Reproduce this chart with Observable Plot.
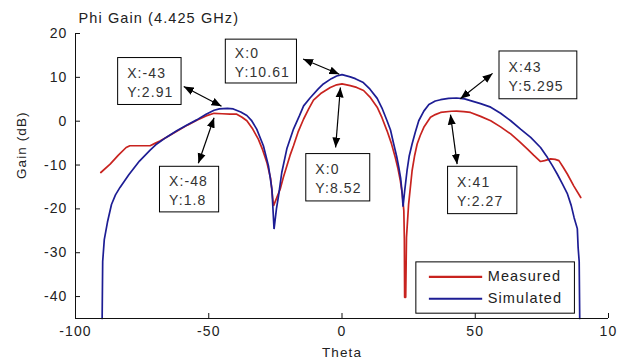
<!DOCTYPE html>
<html>
<head>
<meta charset="utf-8">
<script src="https://cdn.jsdelivr.net/npm/d3@7"></script>
<script src="https://cdn.jsdelivr.net/npm/@observablehq/plot@0.6"></script>
<style>
  html, body { margin: 0; padding: 0; background: #fff; }
  #chart svg text { letter-spacing: 1.1px; }
</style>
</head>
<body>
<div id="chart"></div>
<script>
// ---- Data ----
const simTheta = [-90, -89.8, -89.2, -88, -86.5, -85, -83.3, -80, -76, -72, -69.5, -66, -62, -58, -54.5, -51, -48, -46, -43, -40.8, -38, -35.7, -34, -32, -29.5, -27.6, -26.3, -25.5, -24.6, -23.8, -22.6, -20.7, -18.2, -16, -14.4, -12, -9, -7, -4, -2, 0, 3.1, 5, 8, 10.5, 13.2, 15, 16.9, 18.2, 19.4, 20.5, 21.3, 22, 22.6, 22.9, 23.5, 24.4, 25.2, 26.3, 27.5, 28.8, 30.7, 32.6, 35, 37, 40, 43, 46, 48.2, 52, 55.8, 59.5, 63.3, 67, 70.8, 74.5, 77.1, 79, 80.8, 82.7, 84.6, 86, 87.1, 88.3, 88.6, 89, 89.2];
const simGain  = [-45, -32, -27, -23, -19, -16.8, -15.1, -12.2, -9.1, -6.6, -5.2, -3.7, -2.2, -0.8, 0.3, 1.6, 2.5, 2.8, 2.91, 2.8, 2.1, 1.3, 0.2, -1.8, -5.6, -10.2, -15.5, -24.6, -20, -17, -11.7, -6.3, -1.8, 1.2, 3.5, 5.3, 7.3, 8.5, 9.7, 10.3, 10.61, 10.1, 9.7, 8.8, 7.3, 5.2, 3, 0.1, -2, -5.2, -8, -10.5, -13, -16.6, -19.5, -16, -11.3, -8, -5.2, -2.5, 0.1, 2.3, 3.8, 4.6, 4.9, 5.2, 5.295, 5.1, 4.7, 4.0, 3.2, 1.8, 0.1, -1.8, -3.7, -6, -8.3, -10.2, -12.1, -14.3, -16.6, -19.2, -22, -24.5, -28.8, -32, -45];

const measTheta = [-90.5, -87, -84, -81, -79.6, -76, -72, -70, -68.3, -66, -62, -58, -54.5, -51, -48, -45, -42, -39.5, -37.5, -35.7, -33.5, -31.4, -29.8, -28.2, -26.8, -25.7, -24.5, -23.2, -22, -20.7, -19.5, -18.2, -16.5, -14.4, -12.5, -10.7, -8, -4.4, -2, 0, 3.1, 5.5, 8.1, 10.5, 13.2, 15, 16.9, 18.5, 20, 21, 21.9, 22.6, 23.2, 23.4, 23.5, 23.9, 24.2, 25, 26.3, 27.2, 28.2, 29.4, 30.7, 33.2, 35, 37, 41, 43, 45.7, 48.2, 52, 55.8, 59.5, 63.3, 66.5, 69.5, 72, 74.5, 76, 78.3, 80, 81.4, 83, 84.6, 87, 89.6];
const measGain  = [-11.7, -9.8, -7.8, -6, -5.6, -5.6, -5.6, -5.0, -4.5, -3.7, -2.3, -0.9, 0.2, 1.2, 1.8, 1.7, 1.6, 1.6, 0.9, 0.1, -1.8, -4.1, -6.5, -9.4, -13, -19.3, -17.5, -15.5, -12.8, -10.2, -7.8, -5.6, -2.5, 0.5, 2.8, 4.8, 6.3, 7.7, 8.3, 8.52, 8.1, 7.7, 7.0, 5.5, 3.2, 0.8, -2.2, -5, -8.3, -10.8, -13.6, -16.5, -20.4, -27, -40.2, -40.2, -26.5, -18.9, -11.3, -8, -5.2, -3.2, -1.4, 0.9, 1.5, 2.0, 2.27, 2.3, 2.2, 2.0, 1.1, 0.1, -1.3, -2.9, -4.6, -6.3, -7.8, -9.2, -9.0, -8.6, -8.7, -9.0, -10.5, -12.1, -14.8, -17.4];

const seriesNames = ["Measured", "Simulated"];

const xTicks = [-100, -50, 0, 50, 100];
const xTickLabels = ["-100", "-50", "0", "50", "10"];
const yTicks = [-40, -30, -20, -10, 0, 10, 20];
const yTickLabels = ["-40", "-30", "-20", "-10", "0", "10", "20"];

const titleText = "Phi Gain (4.425 GHz)";
const xLabel = "Theta";
const yLabel = "Gain (dB)";

// data tips (value point + label)
const tipLabels = ["X:-43\nY:2.91", "X:0\nY:10.61", "X:-48\nY:1.8", "X:0\nY:8.52", "X:43\nY:5.295", "X:41\nY:2.27"];
// layout of data-tip boxes (in data units)
const boxX1 = [-84.0, -43.6, -68.3, -13.4, 59.1, 39.8];
const boxX2 = [-60.2, -16.9, -46.1, 10.6, 88.3, 65.8];
const boxY1 = [14.4, 18.6, -10.4, -7.5, 15.9, -10.4];
const boxY2 = [3.7, 8.6, -20.8, -18.3, 5.0, -21.2];
// double arrows between box and point (data units)
const arrX1 = [-59.4, -14.6, -53.9, -2.4, 56.5, 43.2];
const arrY1 = [7.9, 14.2, -9.6, -6.0, 10.9, -9.8];
const arrX2 = [-45.2, -1.0, -48.0, -0.6, 44.4, 40.7];
const arrY2 = [3.4, 10.7, 0.8, 7.7, 5.1, 1.5];

// legend layout (data units)
const legendBox = {x1: 27.9, x2: 87.4, y1: -32.2, y2: -43.9};
const legendLineX1 = 32.6, legendLineX2 = 52.6, legendTextX = 54.7;
const legendY = [-35.5, -40.5];

// ---- Build table objects ----
const sim = simTheta.map((t, i) => ({theta: t, gain: simGain[i]}));
const meas = measTheta.map((t, i) => ({theta: t, gain: measGain[i]}));
const tips = tipLabels.map((label, i) => ({label, x1: boxX1[i], x2: boxX2[i], y1: boxY1[i], y2: boxY2[i], ax1: arrX1[i], ay1: arrY1[i], ax2: arrX2[i], ay2: arrY2[i]}));
const legendRows = seriesNames.map((name, i) => ({name, y: legendY[i]}));

const RED = "#c8231f";
const BLUE = "#1d1d94";
const colorOf = {Measured: RED, Simulated: BLUE};

function arrowHead(color) {
  const ns = "http://www.w3.org/2000/svg";
  const m = document.createElementNS(ns, "marker");
  m.setAttribute("viewBox", "-10 -5 10 10");
  m.setAttribute("markerWidth", 10);
  m.setAttribute("markerHeight", 10);
  m.setAttribute("markerUnits", "userSpaceOnUse");
  m.setAttribute("orient", "auto-start-reverse");
  m.setAttribute("refX", 0);
  m.setAttribute("refY", 0);
  const p = document.createElementNS(ns, "path");
  p.setAttribute("d", "M-10,-4L0,0L-10,4Z");
  p.setAttribute("fill", color);
  p.setAttribute("stroke", "none");
  m.appendChild(p);
  return m;
}

const W = 623, H = 360;
const mL = 75, mR = 15, mT = 33, mB = 42;
const frameW = W - mL - mR, frameH = H - mT - mB;

const chart = Plot.plot({
  width: W,
  height: H,
  marginLeft: mL,
  marginRight: mR,
  marginTop: mT,
  marginBottom: mB,
  style: {fontFamily: "'Liberation Sans', Arial, sans-serif", fontSize: "14px", color: "#222", background: "#fff"},
  x: {domain: [-100, 100], axis: null},
  y: {domain: [-45, 20], axis: null},
  marks: [
    // curves
    Plot.line(meas, {x: "theta", y: "gain", stroke: RED, strokeWidth: 1.7, strokeLinejoin: "miter"}),
    Plot.line(sim, {x: "theta", y: "gain", stroke: BLUE, strokeWidth: 1.7, strokeLinejoin: "miter"}),
    // axes lines
    Plot.ruleX([-100], {stroke: "#111", strokeWidth: 1}),
    Plot.ruleY([-45], {stroke: "#111", strokeWidth: 1}),
    // inward ticks
    Plot.tickX(xTicks, {x: d => d, stroke: "#111", insetTop: frameH - 5}),
    Plot.tickY(yTicks, {y: d => d, stroke: "#111", insetRight: frameW - 5}),
    // tick labels
    Plot.text(xTicks, {x: d => d, y: -45, dy: 13, text: (d, i) => xTickLabels[i], fill: "#222", fontSize: 14, lineAnchor: "middle"}),
    Plot.text(yTicks, {x: -100, y: d => d, dx: -8, text: (d, i) => yTickLabels[i], fill: "#222", fontSize: 14, textAnchor: "end", lineAnchor: "middle"}),
    // axis titles and chart title
    Plot.text([xLabel], {frameAnchor: "bottom", dy: 34, text: d => d, fill: "#222", fontSize: 13.5, lineAnchor: "middle"}),
    Plot.text([yLabel], {frameAnchor: "left", dx: -54, dy: 3, rotate: -90, text: d => d, fill: "#222", fontSize: 13.5, lineAnchor: "middle"}),
    Plot.text([titleText], {frameAnchor: "top-left", dx: 3, dy: -15, text: d => d, fill: "#222", fontSize: 14.5, textAnchor: "start", lineAnchor: "middle"}),
    // data-tip arrows
    Plot.link(tips, {x1: "ax1", y1: "ay1", x2: "ax2", y2: "ay2", stroke: "#000", strokeWidth: 1.2, markerStart: arrowHead, markerEnd: arrowHead}),
    // data-tip boxes
    Plot.rect(tips, {x1: "x1", x2: "x2", y1: "y1", y2: "y2", fill: "#fff", stroke: "#000", strokeWidth: 1}),
    Plot.text(tips, {x: "x1", y: d => (d.y1 + d.y2) / 2, dx: 9, text: "label", fill: "#333", fontSize: 14, textAnchor: "start", lineAnchor: "middle", lineHeight: 1.36}),
    // legend
    Plot.rect([legendBox], {x1: "x1", x2: "x2", y1: "y1", y2: "y2", fill: "#fff", stroke: "#000", strokeWidth: 1}),
    Plot.link(legendRows, {x1: legendLineX1, x2: legendLineX2, y1: "y", y2: "y", stroke: d => colorOf[d.name], strokeWidth: 2.2}),
    Plot.text(legendRows, {x: legendTextX, y: "y", text: "name", fill: "#222", fontSize: 14.5, textAnchor: "start", lineAnchor: "middle"})
  ]
});

document.getElementById("chart").appendChild(chart);
</script>
</body>
</html>
